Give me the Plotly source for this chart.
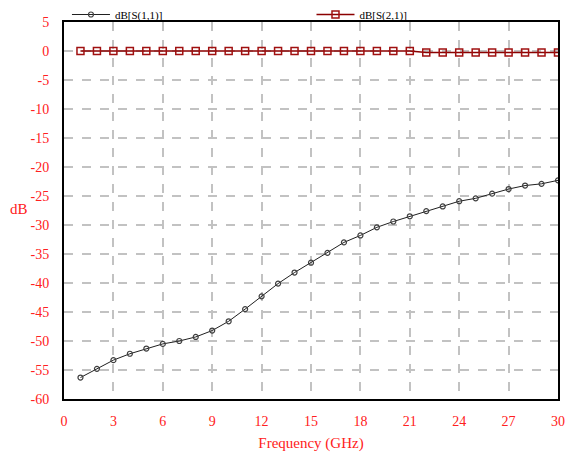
import plotly.graph_objects as go

freq = list(range(1, 31))
s11 = [-56.3, -54.8, -53.3, -52.2, -51.3, -50.5, -50.0, -49.3, -48.2, -46.6,
       -44.5, -42.3, -40.1, -38.2, -36.5, -34.8, -33.0, -31.8, -30.4, -29.4,
       -28.5, -27.6, -26.8, -25.9, -25.4, -24.6, -23.8, -23.2, -22.9, -22.3]
s21 = [0.0] * 21 + [-0.25] * 9

x_ticks = list(range(0, 31, 3))
y_ticks = list(range(-60, 6, 5))

red = "#ff2020"
font_serif = "Liberation Serif"

fig = go.Figure()
fig.add_trace(go.Scatter(
    x=freq, y=s11, name="dB[S(1,1)]", mode="lines+markers", legend="legend",
    line=dict(color="#202020", width=1),
    marker=dict(symbol="circle-open", size=5, color="#404040", line=dict(width=1.2)),
))
fig.add_trace(go.Scatter(
    x=freq, y=s21, name="dB[S(2,1)]", mode="lines+markers", legend="legend2",
    line=dict(color="#8b0000", width=1.5),
    marker=dict(symbol="square-open", size=7, color="#a01010", line=dict(width=1.5)),
))

grid = dict(showgrid=True, gridcolor="#c2c2c2", gridwidth=1.5, griddash="dash")

leg_common = dict(
    orientation="h", y=1.0, yref="container", xanchor="left", yanchor="top",
    font=dict(family=font_serif, size=11, color="black"),
    bgcolor="rgba(0,0,0,0)", itemwidth=38,
)

fig.update_layout(
    width=566, height=458,
    margin=dict(l=64, r=8, t=22, b=59, autoexpand=False),
    paper_bgcolor="white", plot_bgcolor="white",
    font=dict(family=font_serif, size=14, color=red),
    showlegend=True,
    legend=dict(x=0.006, **leg_common),
    legend2=dict(x=0.501, **leg_common),
    xaxis=dict(
        range=[0, 30], tickvals=x_ticks, ticktext=[str(v) for v in x_ticks],
        showline=True, linecolor="black", linewidth=2, mirror=True,
        ticks="", ticklabelstandoff=8, zeroline=False,
        title=dict(text="Frequency (GHz)", font=dict(size=15, color=red), standoff=10),
        **grid,
    ),
    yaxis=dict(
        range=[-60, 5], tickvals=y_ticks, ticktext=[str(v) for v in y_ticks],
        showline=True, linecolor="black", linewidth=2, mirror=True,
        ticks="", ticklabelstandoff=10, zeroline=False,
        **grid,
    ),
    annotations=[dict(
        text="dB", xref="paper", yref="paper", x=-0.091, y=0.505,
        xanchor="center", yanchor="middle", showarrow=False,
        font=dict(family=font_serif, size=15, color=red),
    )],
)

fig.write_html("out.html")
